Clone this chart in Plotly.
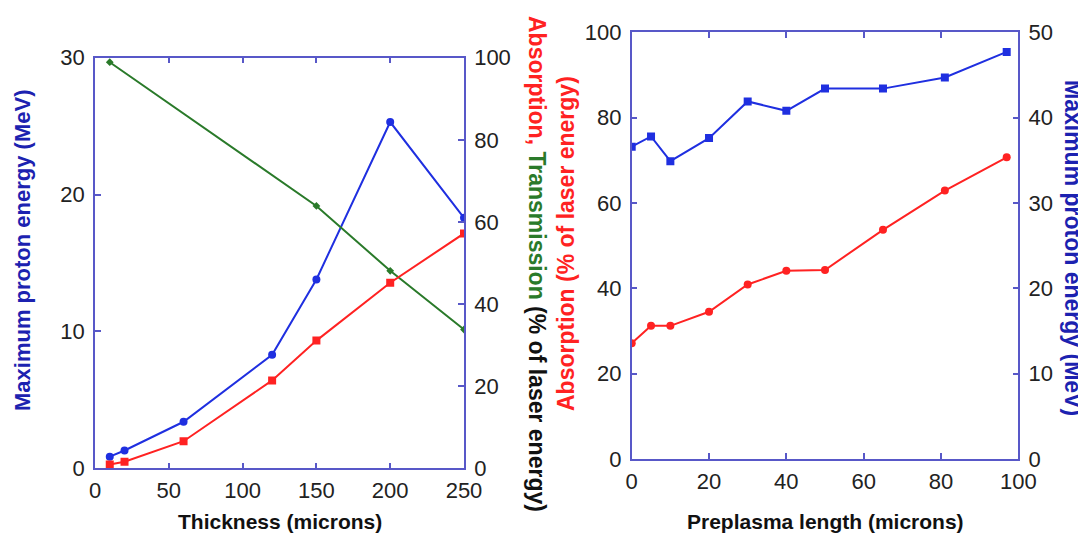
import plotly.graph_objects as go

# ---------------- data ----------------
thickness = [10, 20, 60, 120, 150, 200, 250]
proton_thick = [0.85, 1.3, 3.4, 8.3, 13.8, 25.3, 18.3]
absorption_thick = [0.9, 1.6, 6.6, 21.4, 31.1, 45.2, 57.2]
thickness_trans = [10, 150, 200, 250]
transmission = [98.9, 63.9, 48.1, 33.8]

preplasma = [0, 5, 10, 20, 30, 40, 50, 65, 81, 97]
absorption_pre = [27.1, 31.2, 31.2, 34.5, 40.9, 44.1, 44.3, 53.7, 62.9, 70.7]
proton_pre = [36.6, 37.8, 34.9, 37.6, 41.9, 40.8, 43.4, 43.4, 44.7, 47.7]

thick_ticks = [0, 50, 100, 150, 200, 250]
mev_ticks_left = [0, 10, 20, 30]
pct_ticks = [0, 20, 40, 60, 80, 100]
pre_ticks = [0, 20, 40, 60, 80, 100]
mev_ticks_right = [0, 10, 20, 30, 40, 50]

# ---------------- style ----------------
# The page body has an 8px margin, so the figure is drawn 8px in from the corner.
OFF = 8
W, H = 1086 - OFF, 533 - OFF
BLUE = "#1f2fe0"
RED = "#ff2222"
GREEN = "#2a7a2a"
TBLUE = "#1c22b0"
AXC = "#5858c8"
FONT = "Liberation Sans, Arial, sans-serif"
TICKFONT = dict(family=FONT, size=22, color="#222222")


def px_x(p):
    return (p - OFF) / W


def px_y(p):
    return 1 - (p - OFF) / H


# panel boxes in window pixels
L_x0, L_x1, L_top, L_bot = 95, 464, 57.7, 468.3
R_x0, R_x1, R_top, R_bot = 631.7, 1018.3, 32.3, 459

fig = go.Figure()

fig.add_trace(go.Scatter(x=thickness_trans, y=transmission, xaxis="x", yaxis="y2",
                         mode="lines+markers", line=dict(color=GREEN, width=2),
                         marker=dict(color=GREEN, size=6, symbol="diamond"), showlegend=False))
fig.add_trace(go.Scatter(x=thickness, y=absorption_thick, xaxis="x", yaxis="y2",
                         mode="lines+markers", line=dict(color=RED, width=2),
                         marker=dict(color=RED, size=8, symbol="square"), showlegend=False))
fig.add_trace(go.Scatter(x=thickness, y=proton_thick, xaxis="x", yaxis="y",
                         mode="lines+markers", line=dict(color=BLUE, width=2),
                         marker=dict(color=BLUE, size=8, symbol="circle"), showlegend=False))

fig.add_trace(go.Scatter(x=preplasma, y=absorption_pre, xaxis="x2", yaxis="y3",
                         mode="lines+markers", line=dict(color=RED, width=2),
                         marker=dict(color=RED, size=8, symbol="circle"), showlegend=False))
fig.add_trace(go.Scatter(x=preplasma, y=proton_pre, xaxis="x2", yaxis="y4",
                         mode="lines+markers", line=dict(color=BLUE, width=2),
                         marker=dict(color=BLUE, size=8, symbol="square"), showlegend=False))

common = dict(showgrid=False, zeroline=False, showline=True, linecolor=AXC, linewidth=1.5,
              ticks="inside", ticklen=6, tickcolor=AXC, tickwidth=1.5,
              tickfont=TICKFONT, automargin=False)
xcommon = dict(common, ticklabelstandoff=2)
ycommon = dict(common, ticklabelstandoff=4)

fig.update_layout(
    width=W, height=H,
    margin=dict(l=0, r=0, t=0, b=0),
    paper_bgcolor="white", plot_bgcolor="white",
    xaxis=dict(domain=[px_x(L_x0), px_x(L_x1)], range=[0, 250], tickvals=thick_ticks,
               anchor="y", mirror="ticks", **xcommon),
    yaxis=dict(domain=[px_y(L_bot), px_y(L_top)], range=[0, 30], tickvals=mev_ticks_left,
               anchor="x", side="left", **ycommon),
    yaxis2=dict(range=[0, 100], tickvals=pct_ticks, overlaying="y", anchor="x", side="right",
                **ycommon),
    xaxis2=dict(domain=[px_x(R_x0), px_x(R_x1)], range=[0, 100], tickvals=pre_ticks,
                anchor="y3", mirror="ticks", **xcommon),
    yaxis3=dict(domain=[px_y(R_bot), px_y(R_top)], range=[0, 100], tickvals=pct_ticks,
                anchor="x2", side="left", **ycommon),
    yaxis4=dict(range=[0, 50], tickvals=mev_ticks_right, overlaying="y3", anchor="x2",
                side="right", **ycommon),
)

XF = dict(family=FONT, size=21, color="#111111", weight="bold")
mid_title = ("<span style='color:" + RED + "'>Absorption,</span> "
             "<span style='color:" + GREEN + "'>Transmission</span> "
             "<span style='color:#111111'>(% of laser energy)</span>")
anns = [
    dict(x=px_x(22), y=px_y(251), textangle=-90,
         text="Maximum proton energy (MeV)",
         font=dict(family=FONT, size=22, color=TBLUE, weight="bold")),
    dict(x=px_x(537), y=px_y(264), textangle=90,
         text=mid_title, font=dict(family=FONT, size=23, color="#111111", weight="bold")),
    dict(x=px_x(566), y=px_y(244), textangle=-90,
         text="Absorption (% of laser energy)",
         font=dict(family=FONT, size=23, color=RED, weight="bold")),
    dict(x=px_x(1073), y=px_y(248), textangle=90,
         text="Maximum proton energy (MeV)",
         font=dict(family=FONT, size=23, color=TBLUE, weight="bold")),
    dict(x=px_x(280), y=px_y(521), text="Thickness (microns)", font=XF),
    dict(x=px_x(825), y=px_y(521), text="Preplasma length (microns)", font=XF),
]
for a in anns:
    a.update(xref="paper", yref="paper", showarrow=False, xanchor="center", yanchor="middle")
fig.update_layout(annotations=anns)

fig.write_html("out.html", config={"displayModeBar": False})
